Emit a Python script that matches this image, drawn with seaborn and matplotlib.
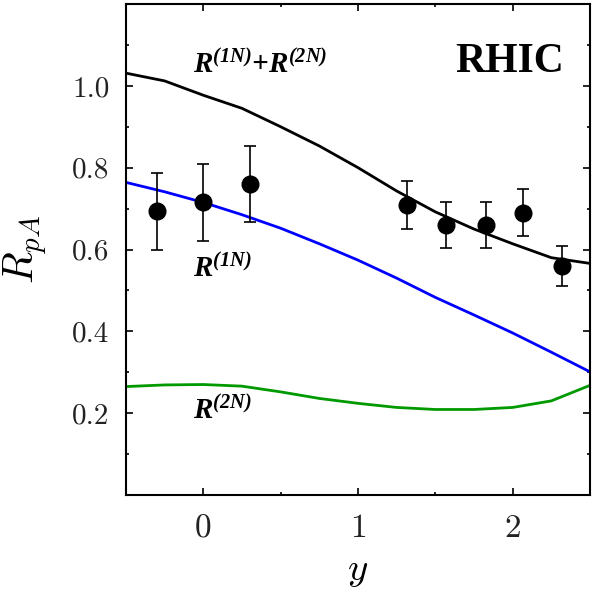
import numpy as np
import seaborn as sns
import matplotlib
matplotlib.use('Agg')
import matplotlib.pyplot as plt
from matplotlib.ticker import MultipleLocator

# measured points (RHIC, pA)
y_data = [-0.30, 0.00, 0.30, 1.32, 1.57, 1.83, 2.07, 2.32]
rpa_data = [0.693, 0.715, 0.760, 0.709, 0.660, 0.660, 0.690, 0.560]
rpa_err = [0.094, 0.094, 0.094, 0.058, 0.057, 0.057, 0.057, 0.049]

# model curves
y_curve = [-0.5, -0.25, 0.0, 0.25, 0.5, 0.75, 1.0, 1.25, 1.5, 1.75, 2.0, 2.25, 2.5]
r_total = [1.031, 1.012, 0.977, 0.945, 0.900, 0.853, 0.800, 0.743, 0.692, 0.650, 0.614, 0.580, 0.566]
r_1n = [0.764, 0.741, 0.715, 0.685, 0.652, 0.614, 0.574, 0.530, 0.483, 0.440, 0.396, 0.349, 0.301]
r_2n = [0.265, 0.269, 0.270, 0.266, 0.252, 0.236, 0.224, 0.214, 0.209, 0.209, 0.214, 0.230, 0.268]

xticks = [0, 1, 2]
xtick_labels = ['0', '1', '2']
yticks = [0.2, 0.4, 0.6, 0.8, 1.0]
ytick_labels = ['0.2', '0.4', '0.6', '0.8', '1.0']

sns.set_style('ticks')
plt.rcParams['mathtext.fontset'] = 'custom'
plt.rcParams['mathtext.it'] = 'cmmi10'
plt.rcParams['mathtext.rm'] = 'Liberation Serif:italic:bold'
for k in ['text.color', 'axes.labelcolor', 'xtick.color', 'ytick.color', 'axes.edgecolor']:
    plt.rcParams[k] = 'black'

fig = plt.figure(figsize=(5.96, 5.96), dpi=100)
ax = fig.add_axes([126 / 596, 101 / 596, 464 / 596, 491 / 596])

sns.lineplot(x=y_curve, y=r_total, color='black', lw=2.0, estimator=None, ax=ax)
sns.lineplot(x=y_curve, y=r_1n, color='#0000ff', lw=2.0, estimator=None, ax=ax)
sns.lineplot(x=y_curve, y=r_2n, color='#009900', lw=2.0, estimator=None, ax=ax)
ax.errorbar(y_data, rpa_data, yerr=rpa_err, fmt='o', color='black', ms=12,
            elinewidth=1.2, capsize=4, capthick=1.2, zorder=5)

ax.set_xlim(-0.5, 2.5)
ax.set_ylim(0, 1.2)
ax.set_xticks(xticks)
ax.set_xticklabels(xtick_labels, family='cmr10', fontsize=24, color='#222222')
ax.set_yticks(yticks)
ax.set_yticklabels(ytick_labels, family='cmr10', fontsize=21, color='#222222')
ax.xaxis.set_minor_locator(MultipleLocator(0.5))
ax.yaxis.set_minor_locator(MultipleLocator(0.1))
ax.tick_params(which='both', direction='in', top=True, right=True, width=1.2, color='black')
ax.tick_params(which='major', length=5)
ax.tick_params(which='minor', length=2.5)
ax.tick_params(axis='x', which='major', pad=14)
ax.tick_params(axis='y', which='major', pad=12)
for sp in ax.spines.values():
    sp.set_linewidth(1.5)
    sp.set_color('black')

ax.set_xlabel(r'$y$', fontsize=28)
ax.set_ylabel(r'$R_{pA}$', fontsize=30)
ax.xaxis.set_label_coords(0.5, -0.115)
ax.yaxis.set_label_coords(-0.165, 0.5)

lab = dict(fontsize=21, color='black', ha='left', va='baseline')
ax.text(-0.065, 1.032, r'$\mathrm{R^{(1N)}{+}R^{(2N)}}$', **lab)
ax.text(-0.065, 0.533, r'$\mathrm{R^{(1N)}}$', **lab)
ax.text(-0.065, 0.186, r'$\mathrm{R^{(2N)}}$', **lab)
ax.text(2.335, 1.034, 'RHIC', family='Liberation Serif', weight='bold',
        fontsize=30, ha='right', va='baseline')

fig.savefig('out.png', dpi=100)
